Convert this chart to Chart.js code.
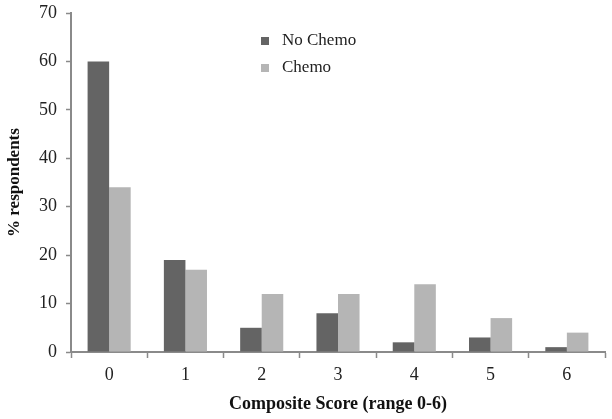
<!DOCTYPE html>
<html>
<head>
<meta charset="utf-8">
<script src="https://cdn.jsdelivr.net/npm/chart.js@4/dist/chart.umd.min.js"></script>
<style>
  html, body { margin: 0; padding: 0; background: #fff; }
  canvas { display: block; }
</style>
</head>
<body>
<canvas id="chart" width="612" height="419"></canvas>
<script>
// data
const scores = ['0', '1', '2', '3', '4', '5', '6'];
const noChemo = [60, 19, 5, 8, 2, 3, 1];
const chemo = [34, 17, 12, 12, 14, 7, 4];
const yTicks = [0, 10, 20, 30, 40, 50, 60, 70];

const FONT = "'Liberation Serif', 'DejaVu Serif', serif";
const AXIS = '#8a8a8a';

// simple legend drawn inside the plot, top middle
const insideLegend = {
    id: 'insideLegend',
    afterDraw(chart) {
        const ctx = chart.ctx;
        const x0 = 261, y0 = 41, gap = 27;
        ctx.save();
        ctx.font = '17px ' + FONT;
        ctx.textBaseline = 'middle';
        chart.data.datasets.forEach((ds, i) => {
            const y = y0 + i * gap;
            ctx.fillStyle = ds.backgroundColor;
            ctx.fillRect(x0, y - 4, 8, 8);
            ctx.fillStyle = '#222';
            ctx.fillText(ds.label, x0 + 21, y);
        });
        ctx.restore();
    }
};

new Chart(document.getElementById('chart'), {
    type: 'bar',
    data: {
        labels: scores,
        datasets: [
            { label: 'No Chemo', data: noChemo, backgroundColor: '#646464' },
            { label: 'Chemo', data: chemo, backgroundColor: '#b5b5b5' }
        ]
    },
    options: {
        responsive: false,
        animation: false,
        devicePixelRatio: 1,
        layout: { padding: { top: 13, right: 7, left: 0, bottom: 0 } },
        plugins: {
            legend: { display: false },
            tooltip: { enabled: false }
        },
        datasets: {
            bar: { categoryPercentage: 0.565, barPercentage: 1 }
        },
        scales: {
            x: {
                grid: {
                    offset: true,
                    drawOnChartArea: false,
                    color: AXIS,
                    tickLength: 6,
                    tickWidth: 1.5
                },
                border: { color: AXIS, width: 2 },
                ticks: { color: '#222', font: { family: FONT, size: 18 }, padding: 6 },
                title: {
                    display: true,
                    text: 'Composite Score (range 0-6)',
                    color: '#111',
                    font: { family: FONT, size: 18, weight: 'bold' },
                    padding: { top: 2 }
                },
                afterFit(scale) {
                    scale.height = 67;
                    scale.paddingRight = 0;
                }
            },
            y: {
                min: 0,
                max: 70,
                afterBuildTicks(scale) { scale.ticks = yTicks.map(v => ({ value: v })); },
                grid: {
                    drawOnChartArea: false,
                    color: AXIS,
                    tickLength: 5,
                    tickWidth: 1.5
                },
                border: { color: AXIS, width: 2 },
                ticks: { color: '#222', font: { family: FONT, size: 18 }, padding: 9 },
                title: {
                    display: true,
                    text: '% respondents',
                    color: '#111',
                    font: { family: FONT, size: 17, weight: 'bold' },
                    padding: { top: 4, bottom: 0 }
                },
                afterFit(scale) {
                    scale.width = 71;
                    scale.paddingTop = 0;
                    scale.paddingBottom = 0;
                }
            }
        }
    },
    plugins: [insideLegend]
});
</script>
</body>
</html>
